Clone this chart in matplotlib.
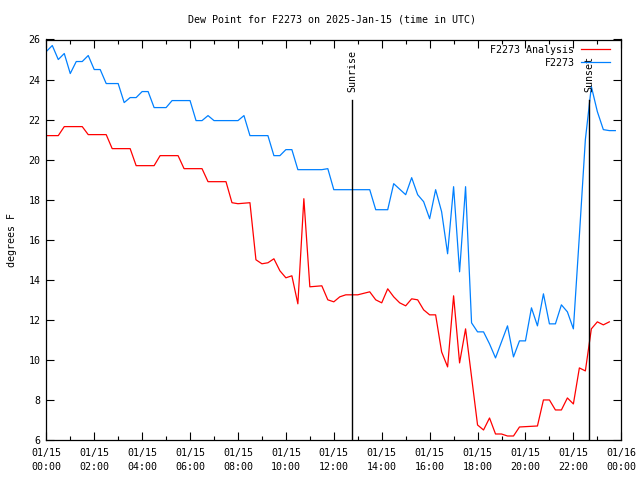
import matplotlib
matplotlib.use('Agg')
import matplotlib.pyplot as plt
from matplotlib.ticker import FixedLocator, MultipleLocator

plt.rcParams['font.family'] = 'DejaVu Sans Mono'
plt.rcParams['font.size'] = 7.2

# hours since 2025-01-15 00:00 UTC
obs_t = [0, 0.25, 0.5, 0.75, 1.0, 1.25, 1.5, 1.75, 2.0, 2.25, 2.5, 3.0, 3.25, 3.5, 3.75,
         4.0, 4.25, 4.5, 5.0, 5.25, 6.0, 6.25, 6.5, 6.75, 7.0, 8.0, 8.25, 8.5, 9.25, 9.5,
         9.75, 10.0, 10.25, 10.5, 11.5, 11.75, 12.0, 13.5, 13.75, 14.25, 14.5, 15.0, 15.25,
         15.5, 15.75, 16.0, 16.25, 16.5, 16.75, 17.0, 17.25, 17.5, 17.75, 18.0, 18.25, 18.5,
         18.75, 19.25, 19.5, 19.75, 20.0, 20.25, 20.5, 20.75, 21.0, 21.25, 21.5, 21.75, 22.0,
         22.25, 22.5, 22.75, 23.0, 23.25, 23.5, 23.75]
obs_dew = [25.4, 25.7, 25.0, 25.3, 24.3, 24.9, 24.9, 25.2, 24.5, 24.5, 23.8, 23.8, 22.85, 23.1,
           23.1, 23.4, 23.4, 22.6, 22.6, 22.95, 22.95, 21.95, 21.95, 22.2, 21.95, 21.95, 22.2,
           21.2, 21.2, 20.2, 20.2, 20.5, 20.5, 19.5, 19.5, 19.55, 18.5, 18.5, 17.5, 17.5, 18.8,
           18.25, 19.1, 18.25, 17.9, 17.05, 18.5, 17.4, 15.3, 18.65, 14.4, 18.65, 11.85, 11.4,
           11.4, 10.8, 10.1, 11.7, 10.15, 10.95, 10.95, 12.6, 11.7, 13.3, 11.8, 11.8, 12.75,
           12.4, 11.55, 16.2, 21.0, 23.65, 22.4, 21.5, 21.45, 21.45]

ana_t = [0, 0.5, 0.75, 1.5, 1.75, 2.5, 2.75, 3.5, 3.75, 4.5, 4.75, 5.5, 5.75, 6.5, 6.75, 7.5,
         7.75, 8.0, 8.5, 8.75, 9.0, 9.25, 9.5, 9.75, 10.0, 10.25, 10.5, 10.75, 11.0, 11.5,
         11.75, 12.0, 12.25, 12.5, 13.0, 13.5, 13.75, 14.0, 14.25, 14.5, 14.75, 15.0, 15.25,
         15.5, 15.75, 16.0, 16.25, 16.5, 16.75, 17.0, 17.25, 17.5, 18.0, 18.25, 18.5, 18.75,
         19.0, 19.25, 19.5, 19.75, 20.5, 20.75, 21.0, 21.25, 21.5, 21.75, 22.0, 22.25, 22.5,
         22.75, 23.0, 23.25, 23.5]
ana_dew = [21.2, 21.2, 21.65, 21.65, 21.25, 21.25, 20.55, 20.55, 19.7, 19.7, 20.2, 20.2, 19.55,
           19.55, 18.9, 18.9, 17.85, 17.8, 17.85, 15.0, 14.8, 14.85, 15.05, 14.45, 14.1, 14.2,
           12.8, 18.05, 13.65, 13.7, 13.0, 12.9, 13.15, 13.25, 13.25, 13.4, 13.0, 12.85, 13.55,
           13.15, 12.85, 12.7, 13.05, 13.0, 12.5, 12.25, 12.25, 10.4, 9.65, 13.2, 9.85, 11.55,
           6.75, 6.5, 7.1, 6.3, 6.3, 6.2, 6.2, 6.65, 6.7, 8.0, 8.0, 7.5, 7.5, 8.1, 7.8, 9.6,
           9.45, 11.55, 11.9, 11.75, 11.9]

sun_events = ['Sunrise', 'Sunset']
sun_hours = [12.77, 22.65]
sun_top = 23

fig = plt.figure(figsize=(6.4, 4.8), dpi=100)
ax = fig.add_axes([46.3 / 640, 40 / 480, 575 / 640, 400.5 / 480])

ax.plot(ana_t, ana_dew, color='#ff0000', lw=0.9, label='F2273 Analysis')
ax.plot(obs_t, obs_dew, color='#0080ff', lw=0.9, label='F2273')

for name, h in zip(sun_events, sun_hours):
    ax.plot([h, h], [6, sun_top], color='black', lw=1.0)
    ax.text(h, sun_top + 0.4, name, rotation=90, ha='center', va='bottom')

ax.set_xlim(0, 24)
ax.set_ylim(6, 26)

major_h = list(range(0, 25, 2))
ax.xaxis.set_major_locator(FixedLocator(major_h))
ax.set_xticklabels(['01/%d\n%02d:00' % (15 + h // 24, h % 24) for h in major_h],
                   linespacing=1.5)
ax.xaxis.set_minor_locator(MultipleLocator(1))
ax.yaxis.set_major_locator(MultipleLocator(2))

ax.tick_params(which='both', direction='in', top=True, right=True, width=0.8)
ax.tick_params(which='major', length=5.5)
ax.tick_params(which='minor', length=3)
ax.tick_params(axis='x', pad=6)
ax.tick_params(axis='y', pad=4)
for s in ax.spines.values():
    s.set_linewidth(0.9)

leg = ax.legend(loc='upper right', bbox_to_anchor=(0.981, 0.987), frameon=False,
                markerfirst=False, handlelength=2.9, handletextpad=0.7,
                labelspacing=0.3, borderaxespad=0, borderpad=0)
for t in leg.get_texts():
    t.set_ha('right')

fig.text(332 / 640, 1 - 19 / 480, 'Dew Point for F2273 on 2025-Jan-15 (time in UTC)',
         ha='center', va='center')
fig.text(12 / 640, 0.5, 'degrees F', rotation=90, ha='center', va='center')

fig.savefig('out.png', dpi=100)
